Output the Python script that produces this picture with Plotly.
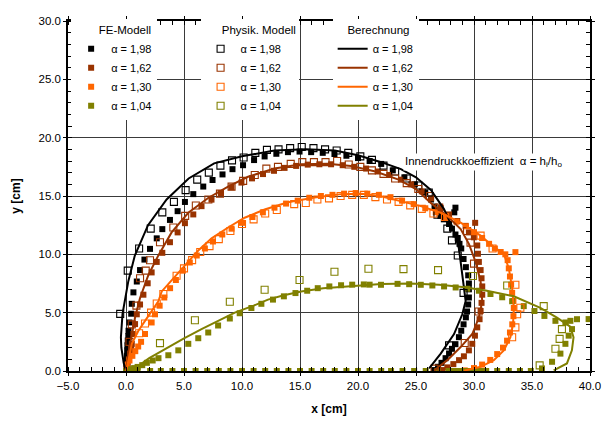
import plotly.graph_objects as go

# ---------------- data ----------------
labels = ["α = 1,98", "α = 1,62", "α = 1,30", "α = 1,04"]
colors = ["#000000", "#993300", "#FF6600", "#808000"]

# FE-Modell (filled squares)
fe_x_198 = [0.0, 0.05, 0.05, 0.07, 0.08, 0.1, 0.12, 0.15, 0.2, 0.22, 0.3, 0.45, 0.5, 0.64, 0.93, 1.21, 1.59, 2.07, 2.65, 3.13, 3.79, 4.45, 5.08, 5.8, 6.66, 7.46, 8.32, 9.18, 10.09, 11.04, 11.95, 12.96, 13.96, 14.96, 15.96, 16.96, 17.97, 19.0, 20.0, 21.0, 22.0, 23.0, 24.0, 24.9, 25.8, 26.3, 26.6, 26.85, 27.1, 27.4, 27.85, 28.1, 28.4, 28.6, 28.75, 28.9, 29.1, 29.3, 29.5, 29.56, 29.56, 29.56, 29.5, 29.4, 29.3, 29.1, 28.9, 28.7, 28.4, 28.1, 27.85, 27.55, 27.2, 26.9, 26.56, 28.4, 28.3]
fe_y_198 = [0.0, 0.3, 0.6, 0.93, 1.3, 1.77, 2.2, 2.61, 3.0, 3.45, 4.16, 4.91, 5.76, 6.74, 7.67, 8.65, 9.55, 10.47, 11.37, 12.16, 12.95, 13.7, 14.49, 15.16, 15.81, 16.37, 16.85, 17.3, 17.64, 18.08, 18.39, 18.62, 18.76, 18.81, 18.76, 18.7, 18.6, 18.45, 18.25, 18.0, 17.75, 17.2, 16.6, 16.0, 15.3, 14.7, 14.1, 13.7, 13.3, 13.0, 12.6, 12.2, 11.7, 11.4, 10.9, 10.5, 9.6, 8.9, 8.2, 7.5, 7.0, 6.3, 5.7, 5.1, 4.6, 4.0, 3.45, 2.9, 2.3, 1.9, 1.5, 1.1, 0.7, 0.36, 0.08, 14.0, 13.6]

fe_x_162 = [0.05, 0.15, 0.25, 0.35, 0.45, 0.5, 0.64, 0.78, 0.93, 1.21, 1.5, 1.87, 2.21, 2.65, 3.13, 3.79, 4.45, 5.08, 5.8, 6.51, 7.37, 8.17, 9.09, 9.95, 10.86, 11.81, 12.76, 13.67, 14.67, 15.67, 16.67, 17.68, 18.68, 19.68, 20.7, 21.7, 22.7, 23.7, 24.6, 25.5, 26.3, 27.13, 27.85, 28.56, 29.28, 29.56, 29.99, 30.28, 30.34, 30.42, 30.57, 30.65, 30.71, 30.71, 30.65, 30.57, 30.48, 30.28, 30.08, 29.85, 29.56, 29.13, 28.71, 28.22, 27.7, 27.27, 30.1]
fe_y_162 = [0.2, 0.6, 1.0, 1.5, 1.9, 2.33, 3.17, 4.02, 4.86, 5.7, 6.54, 7.52, 8.45, 9.35, 10.13, 11.04, 11.88, 12.67, 13.42, 14.13, 14.69, 15.25, 15.75, 16.15, 16.51, 16.88, 17.16, 17.41, 17.58, 17.69, 17.72, 17.72, 17.64, 17.5, 17.35, 17.1, 16.8, 16.4, 16.0, 15.4, 14.8, 13.98, 13.42, 12.86, 12.44, 11.88, 11.46, 10.76, 10.05, 9.35, 8.65, 7.95, 7.25, 6.54, 5.84, 5.14, 4.44, 3.74, 3.03, 2.33, 1.77, 1.26, 0.93, 0.59, 0.31, 0.08, 12.7]

fe_x_130 = [0.07, 0.3, 0.55, 0.8, 1.05, 1.3, 1.64, 2.21, 2.5, 2.9, 3.3, 3.8, 4.3, 4.9, 5.5, 6.1, 6.8, 7.5, 8.3, 9.1, 10.0, 10.9, 11.8, 12.8, 13.8, 14.8, 15.8, 16.8, 17.8, 18.8, 19.8, 20.8, 21.8, 22.8, 23.8, 24.8, 25.8, 26.7, 27.6, 28.5, 29.3, 30.0, 30.7, 31.3, 31.8, 32.3, 32.7, 33.57, 32.9, 33.0, 33.1, 33.2, 33.29, 33.4, 33.43, 33.4, 33.3, 33.1, 32.85, 32.5, 32.0, 31.4, 30.7, 30.0, 29.2]
fe_y_130 = [0.51, 0.9, 1.3, 1.7, 2.1, 2.5, 3.17, 4.16, 4.86, 5.6, 6.3, 7.1, 7.8, 8.6, 9.3, 9.9, 10.5, 11.1, 11.7, 12.2, 12.7, 13.2, 13.6, 14.0, 14.35, 14.6, 14.85, 15.0, 15.1, 15.2, 15.25, 15.2, 15.1, 14.9, 14.6, 14.3, 13.95, 13.6, 13.2, 12.8, 12.4, 11.9, 11.4, 10.9, 10.5, 10.2, 10.0, 10.19, 9.5, 8.8, 8.1, 7.4, 6.7, 6.0, 5.4, 4.7, 4.0, 3.3, 2.6, 2.0, 1.45, 0.95, 0.55, 0.25, 0.05]

fe_x_104 = [0.0, 1.0, 2.08, 3.0, 4.0, 5.0, 6.0, 7.0, 8.0, 9.0, 10.0, 11.0, 12.0, 13.0, 14.0, 15.0, 16.0, 17.0, 18.0, 19.0, 20.0, 21.0, 22.0, 22.85, 23.84, 24.84, 25.84, 26.85, 27.8, 28.05, 28.3, 28.55, 28.8, 29.05, 29.3, 29.55, 29.8, 30.05, 30.3, 30.55, 30.8, 31.05, 32.0, 33.0, 33.96, 34.9,
            0.1, 0.4, 0.7, 1.0, 1.4, 1.8, 2.3, 2.8, 3.65, 4.51, 5.37, 6.23, 7.09, 7.94, 8.95, 9.8, 10.81, 11.67, 12.67, 13.61, 14.61, 15.62, 16.53, 17.53, 18.54, 19.5, 20.5, 21.0, 21.98, 23.41, 24.41, 25.41, 26.41, 27.42, 28.42, 29.42, 30.42, 31.42, 32.43, 33.29, 34.29, 35.21, 36.07, 37.02, 37.88, 38.31, 38.88, 39.88, 38.45, 38.16, 37.88, 37.45, 36.73, 35.86]
fe_y_104 = [0.0, 0.0, 0.0, 0.0, 0.0, 0.0, 0.0, 0.0, 0.0, 0.0, 0.0, 0.0, 0.0, 0.0, 0.0, 0.0, 0.0, 0.0, 0.0, 0.0, 0.0, 0.0, 0.0, 0.0, 0.0, 0.0, 0.0, 0.0, 0.0, 0.0, 0.0, 0.0, 0.0, 0.0, 0.0, 0.0, 0.0, 0.0, 0.0, 0.0, 0.0, 0.0, 0.0, 0.0, 0.0, 0.0,
            0.05, 0.15, 0.25, 0.35, 0.5, 0.7, 0.9, 1.1, 1.35, 1.77, 2.33, 2.81, 3.3, 3.9, 4.5, 4.95, 5.4, 5.76, 6.12, 6.4, 6.68, 6.88, 7.1, 7.25, 7.35, 7.4, 7.42, 7.4, 7.39, 7.47, 7.44, 7.39, 7.33, 7.25, 7.16, 7.05, 6.88, 6.6, 6.32, 5.98, 5.56, 5.14, 4.72, 4.3, 4.16, 4.3, 4.44, 4.45, 3.59, 3.03, 2.33, 1.49, 0.79, 0.22]

# Physik. Modell (open squares)
ph_x_198 = [-0.5, 0.15, 1.13, 2.13, 3.13, 4.13, 5.14, 6.14, 7.14, 8.14, 9.14, 10.14, 11.15, 12.15, 13.15, 14.15, 15.15, 16.16, 17.16, 18.16, 19.16, 20.2, 21.2, 22.2, 23.2, 24.2, 25.2, 26.1, 26.85, 27.7, 28.1, 28.6, 29.1, 27.85]
ph_y_198 = [4.9, 8.6, 10.5, 12.2, 13.6, 14.5, 15.5, 16.4, 17.0, 17.6, 18.05, 18.3, 18.7, 18.95, 19.0, 19.1, 19.2, 19.1, 19.0, 18.9, 18.7, 18.4, 18.1, 17.6, 17.1, 16.5, 15.9, 15.3, 13.4, 12.2, 11.2, 9.9, 6.7, 2.2]

ph_x_162 = [0.3, 0.5, 0.9, 1.21, 1.7, 2.07, 2.93, 4.08, 5.1, 6.02, 7.1, 8.1, 9.1, 10.1, 11.1, 12.1, 13.1, 14.2, 15.2, 16.2, 17.2, 18.2, 19.2, 20.2, 21.2, 22.2, 23.2, 24.2, 25.2, 26.2, 27.0, 29.4, 29.7, 30.0, 30.4, 29.2, 26.6]
ph_y_162 = [2.5, 4.0, 5.6, 7.95, 8.6, 9.49, 11.04, 12.3, 13.3, 14.18, 14.7, 15.2, 15.8, 16.3, 16.8, 17.35, 17.5, 17.75, 17.9, 17.9, 17.9, 18.0, 17.7, 17.5, 17.2, 16.9, 16.5, 16.1, 15.6, 15.0, 14.0, 12.0, 11.0, 9.2, 5.1, 2.4, 0.2]

ph_x_130 = [1.13, 1.64, 2.16, 2.65, 3.22, 4.36, 5.0, 5.7, 6.4, 7.2, 8.0, 9.0, 10.0, 11.0, 12.0, 13.0, 14.5, 15.5, 16.5, 17.5, 18.5, 19.5, 20.5, 21.5, 22.5, 23.5, 24.5, 25.5, 26.5, 27.5, 30.57, 31.6, 33.57, 34.0, 33.72, 33.57, 33.29]
ph_y_130 = [3.23, 4.07, 5.0, 5.78, 6.6, 8.17, 8.8, 9.5, 10.2, 10.7, 11.3, 12.0, 12.6, 13.0, 13.5, 13.8, 14.3, 14.4, 14.7, 14.8, 15.0, 15.1, 15.1, 14.9, 14.7, 14.5, 14.2, 13.9, 13.5, 13.2, 11.6, 10.5, 7.39, 5.42, 4.86, 3.74, 2.89]

ph_x_104 = [2.93, 5.94, 8.95, 11.95, 14.96, 17.97, 20.9, 23.92, 26.9, 29.91, 32.86, 36.01, 37.58, 37.38, 37.02, 35.66]
ph_y_104 = [2.39, 4.35, 5.93, 6.96, 7.8, 8.51, 8.76, 8.73, 8.65, 8.14, 7.33, 5.56, 3.59, 2.75, 1.91, 0.48]

# Berechnung (lines)
ca_x_198 = [0.0, -0.2, -0.4, -0.44, -0.3, 0.2, 0.76, 1.9, 3.5, 5.4, 7.6, 10.0, 12.8, 15.5, 18.0, 20.0, 22.0, 23.7, 25.0, 26.3, 27.4, 28.2, 28.7, 29.08, 29.28, 28.99, 28.28, 27.13, 26.13]
ca_y_198 = [0.0, 0.7, 2.0, 2.9, 4.9, 7.7, 9.9, 12.5, 14.7, 16.5, 17.8, 18.4, 18.9, 19.0, 18.9, 18.5, 17.9, 17.3, 16.6, 15.5, 13.9, 12.2, 10.5, 7.7, 6.0, 4.86, 3.17, 1.49, 0.22]

ca_x_162 = [0.0, 0.1, 0.355, 0.78, 1.21, 1.93, 2.79, 3.93, 5.37, 7.08, 8.8, 10.52, 12.81, 15.1, 17.39, 19.4, 21.5, 23.5, 25.0, 26.27, 27.7, 28.85, 29.56, 30.14, 30.57, 30.71, 30.42, 29.85, 28.85, 27.7, 26.56]
ca_y_162 = [0.0, 0.8, 2.33, 4.58, 6.26, 8.23, 9.91, 11.88, 13.56, 14.83, 15.81, 16.65, 17.35, 17.72, 17.77, 17.58, 17.1, 16.4, 15.6, 14.41, 13.28, 12.16, 10.9, 9.35, 7.67, 5.98, 4.58, 3.17, 2.05, 0.93, 0.03]

ca_x_130 = [0.0, 0.1, 0.5, 1.07, 1.64, 2.36, 2.79, 3.08, 4.08, 5.08, 6.23, 7.38, 8.8, 10.23, 11.95, 13.96, 16.25, 18.54, 20.3, 21.98, 23.69, 25.41, 27.13, 28.85, 30.57, 31.71, 32.57, 33.0, 33.29, 33.43, 33.37, 33.14, 32.57, 31.71, 30.57, 29.13]
ca_y_130 = [0.0, 0.36, 2.33, 3.45, 4.3, 5.42, 5.98, 6.82, 7.95, 9.07, 10.33, 11.37, 12.3, 13.14, 13.84, 14.46, 14.88, 15.16, 15.2, 14.97, 14.55, 14.13, 13.56, 12.72, 11.6, 10.62, 10.05, 8.79, 7.1, 5.42, 4.02, 2.89, 1.77, 0.93, 0.36, 0.03]

ca_x_104 = [0.0, 0.6, 2.0, 3.65, 5.0, 6.51, 8.0, 9.38, 11.0, 12.24, 13.6, 15.1, 17.0, 19.4, 22.0, 24.5, 27.0, 29.0, 31.0, 33.43, 35.72, 37.15, 38.3, 38.58, 38.44, 38.01, 36.87]
ca_y_104 = [0.0, 0.1, 1.1, 2.05, 2.8, 3.59, 4.3, 5.0, 5.6, 6.12, 6.5, 6.82, 7.1, 7.25, 7.45, 7.5, 7.4, 7.2, 6.9, 6.4, 5.42, 4.58, 3.8, 2.89, 1.77, 0.65, 0.05]

fe_x = [fe_x_198, fe_x_162, fe_x_130, fe_x_104]
fe_y = [fe_y_198, fe_y_162, fe_y_130, fe_y_104]
ph_x = [ph_x_198, ph_x_162, ph_x_130, ph_x_104]
ph_y = [ph_y_198, ph_y_162, ph_y_130, ph_y_104]
ca_x = [ca_x_198, ca_x_162, ca_x_130, ca_x_104]
ca_y = [ca_y_198, ca_y_162, ca_y_130, ca_y_104]

x_ticks = [-5, 0, 5, 10, 15, 20, 25, 30, 35, 40]
y_ticks = [0, 5, 10, 15, 20, 25, 30]

FONT = "Liberation Sans, Arial, sans-serif"
fig = go.Figure()

for i in range(4):
    fig.add_trace(go.Scatter(
        x=fe_x[i], y=fe_y[i], mode="markers", name=labels[i], legend="legend",
        marker=dict(symbol="square", size=6, color=colors[i], line=dict(width=0))))
for i in range(4):
    fig.add_trace(go.Scatter(
        x=ph_x[i], y=ph_y[i], mode="markers", name=labels[i], legend="legend2",
        marker=dict(symbol="square-open", size=7, color=colors[i], line=dict(width=1.1, color=colors[i]))))
for i in range(4):
    fig.add_trace(go.Scatter(
        x=ca_x[i], y=ca_y[i], mode="lines", name=labels[i], legend="legend3",
        line=dict(color=colors[i], width=2)))

axis_common = dict(
    showline=True, linecolor="black", linewidth=1.5, mirror="allticks",
    ticks="outside", ticklen=3, tickcolor="black",
    showgrid=True, gridcolor="#3a3a3a", gridwidth=1, zeroline=False,
    tickformat=".1f", tickfont=dict(family=FONT, size=11.5, color="black"),
    minor=dict(ticks="inside", ticklen=4, tickcolor="black", showgrid=False),
)

fig.update_xaxes(range=[-5, 40], tickvals=x_ticks, **axis_common,
                 title=dict(text="<b>x [cm]</b>", font=dict(family=FONT, size=12, color="black"), standoff=14))
fig.update_xaxes(minor_dtick=1)
fig.update_yaxes(range=[0, 30], tickvals=y_ticks, **axis_common,
                 title=dict(text="<b>y [cm]</b>", font=dict(family=FONT, size=12, color="black"), standoff=15))
fig.update_yaxes(minor_dtick=1)

leg_common = dict(bgcolor="white", borderwidth=0, xanchor="left", yanchor="top",
                  font=dict(family=FONT, size=11, color="black"), traceorder="normal",
                  tracegroupgap=0)
nb = "\u00a0"
fig.update_layout(
    width=611, height=421,
    margin=dict(l=58, r=29, t=7, b=58),
    paper_bgcolor="white", plot_bgcolor="white",
    font=dict(family=FONT, size=12, color="black"),
    legend=dict(x=0.006, y=1.005, title=dict(text=nb * 8 + "FE-Modell", font=dict(family=FONT, size=11.5)), **leg_common),
    legend2=dict(x=0.254, y=1.005, title=dict(text=nb * 6 + "Physik. Modell", font=dict(family=FONT, size=11.5)), **leg_common),
    legend3=dict(x=0.507, y=1.005, title=dict(text=nb * 4 + "Berechnung", font=dict(family=FONT, size=11.5)), **leg_common),
    annotations=[dict(x=30.8, y=17.9, xref="x", yref="y", showarrow=False,
                      text="Innendruckkoeffizient  α = h<sub>i</sub>/h<sub>o</sub>",
                      bgcolor="white", font=dict(family=FONT, size=11.5, color="black"))],
)

fig.write_html("out.html")
